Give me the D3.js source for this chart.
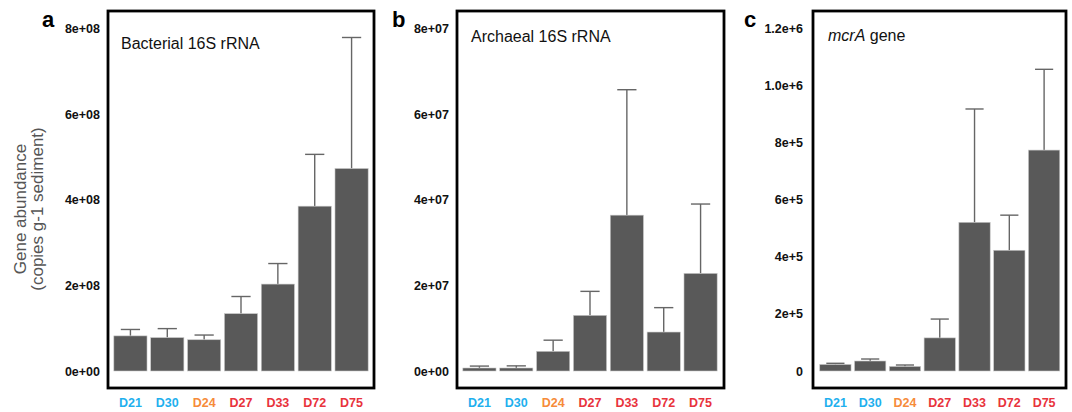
<!DOCTYPE html>
<html>
<head>
<meta charset="utf-8">
<script src="https://cdn.jsdelivr.net/npm/d3@7"></script>
<style>
  body { margin: 0; background: #fff; }
  svg { display: block; font-family: "Liberation Sans", Arial, Helvetica, sans-serif; }
</style>
</head>
<body>
<div id="chart"></div>
<script>
const sites = ["D21", "D30", "D24", "D27", "D33", "D72", "D75"];
const siteColors = ["#1fb0ee", "#1fb0ee", "#f68b3a", "#e8333c", "#e8333c", "#e8333c", "#e8333c"];

// bacterial 16S rRNA (copies per g sediment)
const bacMean = [0.82e8, 0.78e8, 0.73e8, 1.34e8, 2.03e8, 3.85e8, 4.73e8];
const bacSd   = [0.15e8, 0.21e8, 0.11e8, 0.40e8, 0.48e8, 1.21e8, 3.06e8];
const bacTicks = [0, 2e8, 4e8, 6e8, 8e8];
const bacTickLabels = ["0e+00", "2e+08", "4e+08", "6e+08", "8e+08"];

// archaeal 16S rRNA
const arcMean = [0.7e6, 0.7e6, 4.6e6, 1.30e7, 3.64e7, 0.91e7, 2.28e7];
const arcSd   = [0.45e6, 0.5e6, 2.6e6, 0.56e7, 2.93e7, 0.57e7, 1.62e7];
const arcTicks = [0, 2e7, 4e7, 6e7, 8e7];
const arcTickLabels = ["0e+00", "2e+07", "4e+07", "6e+07", "8e+07"];

// mcrA gene
const mcrMean = [2.3e4, 3.5e4, 1.6e4, 1.16e5, 5.21e5, 4.23e5, 7.74e5];
const mcrSd   = [0.4e4, 0.7e4, 0.5e4, 0.66e5, 3.97e5, 1.23e5, 2.83e5];
const mcrTicks = [0, 2e5, 4e5, 6e5, 8e5, 1.0e6, 1.2e6];
const mcrTickLabels = ["0", "2e+5", "4e+5", "6e+5", "8e+5", "1.0e+6", "1.2e+6"];

const svg = d3.select("#chart").append("svg")
    .attr("width", 1072)
    .attr("height", 412);

const boxTop = 11, boxBottom = 388;

function panel(opt) {
    const { left, right, bandLeft, bandRight, mean, sd, ticks, tickLabels, letter, letterX, titleX, titleY, title } = opt;

    const x = d3.scaleBand()
        .domain(sites)
        .range([bandLeft, bandRight])
        .paddingInner(0.1)
        .paddingOuter(0.05);

    const y = d3.scaleLinear()
        .domain([0, ticks[ticks.length - 1]])
        .range([371, 28.5]);

    const g = svg.append("g");

    const rows = sites.map((s, i) => ({ site: s, mean: mean[i], sd: sd[i] }));

    // error bars (upper only)
    const capW = x.bandwidth() * 0.58;
    g.selectAll(".err").data(rows).enter().append("line")
        .attr("x1", d => x(d.site) + x.bandwidth() / 2)
        .attr("x2", d => x(d.site) + x.bandwidth() / 2)
        .attr("y1", d => y(d.mean))
        .attr("y2", d => y(d.mean + d.sd))
        .attr("stroke", "#666")
        .attr("stroke-width", 1.4);
    g.selectAll(".cap").data(rows).enter().append("line")
        .attr("x1", d => x(d.site) + x.bandwidth() / 2 - capW / 2)
        .attr("x2", d => x(d.site) + x.bandwidth() / 2 + capW / 2)
        .attr("y1", d => y(d.mean + d.sd))
        .attr("y2", d => y(d.mean + d.sd))
        .attr("stroke", "#666")
        .attr("stroke-width", 1.4);

    g.selectAll(".bar").data(rows).enter().append("rect")
        .attr("x", d => x(d.site))
        .attr("y", d => y(d.mean))
        .attr("width", x.bandwidth())
        .attr("height", d => y(0) - y(d.mean))
        .attr("fill", "#595959")
        .attr("stroke", "#c8c8c8")
        .attr("stroke-width", 0.6);

    // frame
    g.append("rect")
        .attr("x", left)
        .attr("y", boxTop)
        .attr("width", right - left)
        .attr("height", boxBottom - boxTop)
        .attr("fill", "none")
        .attr("stroke", "#000")
        .attr("stroke-width", 2.8);

    // y axis, labels only
    const yAxis = d3.axisLeft(y)
        .tickValues(ticks)
        .tickFormat((d, i) => tickLabels[i])
        .tickSize(0)
        .tickPadding(opt.tickPad);
    const ax = g.append("g")
        .attr("transform", `translate(${left},0)`)
        .call(yAxis);
    ax.select(".domain").remove();
    ax.selectAll("text")
        .attr("font-size", 12.5)
        .attr("font-weight", "bold")
        .attr("font-family", "Liberation Sans, Arial, sans-serif")
        .attr("fill", "#111");

    // x category labels
    g.selectAll(".xl").data(sites).enter().append("text")
        .attr("x", d => x(d) + x.bandwidth() / 2)
        .attr("y", 407)
        .attr("text-anchor", "middle")
        .attr("font-size", 12.5)
        .attr("font-weight", "bold")
        .attr("fill", (d, i) => siteColors[i])
        .text(d => d);

    // panel letter
    g.append("text")
        .attr("x", letterX)
        .attr("y", 27)
        .attr("font-size", 22)
        .attr("font-weight", "bold")
        .attr("fill", "#000")
        .text(letter);

    // title
    const t = g.append("text")
        .attr("x", titleX)
        .attr("y", titleY)
        .attr("font-size", 16)
        .attr("fill", "#111");
    title(t);
}

panel({
    left: 108, right: 374, bandLeft: 112, bandRight: 370,
    mean: bacMean, sd: bacSd, ticks: bacTicks, tickLabels: bacTickLabels,
    letter: "a", letterX: 42, titleX: 121, titleY: 49, tickPad: 8,
    title: t => t.text("Bacterial 16S rRNA")
});

panel({
    left: 457, right: 724, bandLeft: 461, bandRight: 719,
    mean: arcMean, sd: arcSd, ticks: arcTicks, tickLabels: arcTickLabels,
    letter: "b", letterX: 392, titleX: 471, titleY: 42, tickPad: 8,
    title: t => t.text("Archaeal 16S rRNA")
});

panel({
    left: 813, right: 1066, bandLeft: 818, bandRight: 1061.5,
    mean: mcrMean, sd: mcrSd, ticks: mcrTicks, tickLabels: mcrTickLabels,
    letter: "c", letterX: 744, titleX: 828, titleY: 41, tickPad: 10,
    title: t => {
        t.append("tspan").attr("font-style", "italic").text("mcrA");
        t.append("tspan").text(" gene");
    }
});

// shared y axis title
const yt = svg.append("text")
    .attr("transform", "translate(0,209) rotate(-90)")
    .attr("text-anchor", "middle")
    .attr("font-size", 17)
    .attr("fill", "#555");
yt.append("tspan").attr("x", 0).attr("y", 26).text("Gene abundance");
yt.append("tspan").attr("x", 0).attr("y", 43).text("(copies g-1 sediment)");
</script>
</body>
</html>
